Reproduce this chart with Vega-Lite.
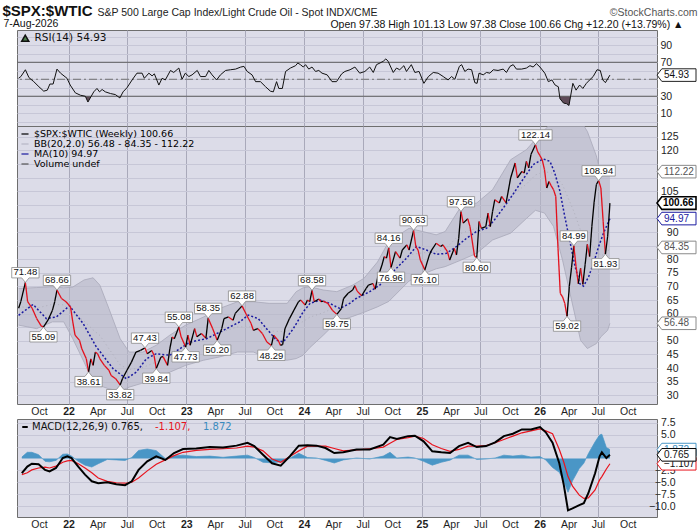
{
  "$schema": "https://vega.github.io/schema/vega-lite/v6.json",
  "background": "white",
  "padding": {"left": 2, "top": 3, "right": 0, "bottom": 0},
  "title": {
    "text": "$SPX:$WTIC",
    "anchor": "start",
    "dx": 0,
    "offset": -12,
    "font": "Liberation Sans",
    "fontSize": 15,
    "fontWeight": "bold",
    "color": "#111111"
  },
  "datasets": {
    "px": [
      {"d": "2021-07-30", "v": 62.0}, {"d": "2021-08-06", "v": 64.5}, {"d": "2021-08-20", "v": 71.48}, {"d": "2021-08-27", "v": 64.4},
      {"d": "2021-09-10", "v": 62.0}, {"d": "2021-09-24", "v": 58.2}, {"d": "2021-10-08", "v": 55.5}, {"d": "2021-10-15", "v": 55.09},
      {"d": "2021-10-29", "v": 57.6}, {"d": "2021-11-12", "v": 61.3}, {"d": "2021-11-19", "v": 64.4}, {"d": "2021-11-26", "v": 68.66},
      {"d": "2021-12-10", "v": 65.6}, {"d": "2021-12-24", "v": 64.4}, {"d": "2022-01-07", "v": 62.5}, {"d": "2022-01-14", "v": 57.0},
      {"d": "2022-01-21", "v": 52.1}, {"d": "2022-02-04", "v": 50.2}, {"d": "2022-02-11", "v": 47.1}, {"d": "2022-02-25", "v": 43.4},
      {"d": "2022-03-04", "v": 38.61}, {"d": "2022-03-11", "v": 43.4}, {"d": "2022-03-18", "v": 41.0}, {"d": "2022-03-25", "v": 45.9},
      {"d": "2022-04-01", "v": 45.3}, {"d": "2022-04-08", "v": 43.4}, {"d": "2022-04-22", "v": 41.0}, {"d": "2022-05-06", "v": 39.2},
      {"d": "2022-05-13", "v": 37.3}, {"d": "2022-05-27", "v": 36.1}, {"d": "2022-06-10", "v": 33.82}, {"d": "2022-06-17", "v": 36.1},
      {"d": "2022-07-01", "v": 39.2}, {"d": "2022-07-15", "v": 42.2}, {"d": "2022-07-29", "v": 45.9}, {"d": "2022-08-12", "v": 46.5},
      {"d": "2022-08-26", "v": 47.43}, {"d": "2022-09-02", "v": 45.3}, {"d": "2022-09-16", "v": 46.5}, {"d": "2022-09-23", "v": 44.7},
      {"d": "2022-09-30", "v": 39.84}, {"d": "2022-10-14", "v": 44.0}, {"d": "2022-10-21", "v": 44.2}, {"d": "2022-11-04", "v": 41.0},
      {"d": "2022-11-11", "v": 47.1}, {"d": "2022-11-18", "v": 51.4}, {"d": "2022-11-25", "v": 50.8}, {"d": "2022-12-09", "v": 55.08},
      {"d": "2022-12-16", "v": 51.5}, {"d": "2022-12-30", "v": 47.73}, {"d": "2023-01-06", "v": 52.1}, {"d": "2023-01-13", "v": 48.4},
      {"d": "2023-01-27", "v": 54.5}, {"d": "2023-02-03", "v": 51.5}, {"d": "2023-02-17", "v": 52.7}, {"d": "2023-03-03", "v": 51.0},
      {"d": "2023-03-10", "v": 58.35}, {"d": "2023-03-24", "v": 54.5}, {"d": "2023-04-07", "v": 50.2}, {"d": "2023-04-21", "v": 54.5},
      {"d": "2023-04-28", "v": 58.2}, {"d": "2023-05-12", "v": 58.8}, {"d": "2023-05-26", "v": 57.6}, {"d": "2023-06-02", "v": 60.1},
      {"d": "2023-06-23", "v": 62.88}, {"d": "2023-07-07", "v": 59.5}, {"d": "2023-07-21", "v": 56.4}, {"d": "2023-07-28", "v": 53.9},
      {"d": "2023-08-11", "v": 54.5}, {"d": "2023-08-25", "v": 52.7}, {"d": "2023-09-08", "v": 49.6}, {"d": "2023-09-22", "v": 48.29},
      {"d": "2023-09-29", "v": 52.1}, {"d": "2023-10-13", "v": 50.2}, {"d": "2023-10-20", "v": 48.4}, {"d": "2023-10-27", "v": 48.6},
      {"d": "2023-11-03", "v": 54.5}, {"d": "2023-11-17", "v": 58.2}, {"d": "2023-12-01", "v": 61.3}, {"d": "2023-12-15", "v": 64.4},
      {"d": "2023-12-22", "v": 65.0}, {"d": "2024-01-05", "v": 63.2}, {"d": "2024-01-12", "v": 65.0}, {"d": "2024-01-19", "v": 64.4},
      {"d": "2024-01-26", "v": 68.58}, {"d": "2024-02-02", "v": 64.4}, {"d": "2024-02-16", "v": 65.4}, {"d": "2024-02-23", "v": 64.4},
      {"d": "2024-03-01", "v": 64.6}, {"d": "2024-03-15", "v": 63.8}, {"d": "2024-03-29", "v": 61.3}, {"d": "2024-04-12", "v": 59.75},
      {"d": "2024-04-26", "v": 61.9}, {"d": "2024-05-03", "v": 65.6}, {"d": "2024-05-17", "v": 67.5}, {"d": "2024-05-31", "v": 68.7},
      {"d": "2024-06-07", "v": 70.3}, {"d": "2024-06-14", "v": 68.3}, {"d": "2024-06-28", "v": 66.6}, {"d": "2024-07-12", "v": 69.3},
      {"d": "2024-07-19", "v": 70.5}, {"d": "2024-08-02", "v": 71.1}, {"d": "2024-08-09", "v": 69.0}, {"d": "2024-08-16", "v": 73.0},
      {"d": "2024-08-23", "v": 75.4}, {"d": "2024-08-30", "v": 77.9}, {"d": "2024-09-06", "v": 81.0}, {"d": "2024-09-13", "v": 80.4},
      {"d": "2024-09-20", "v": 84.16}, {"d": "2024-09-27", "v": 76.96}, {"d": "2024-10-11", "v": 82.8}, {"d": "2024-10-25", "v": 80.4},
      {"d": "2024-11-01", "v": 83.4}, {"d": "2024-11-15", "v": 85.3}, {"d": "2024-11-22", "v": 83.4}, {"d": "2024-12-06", "v": 90.63},
      {"d": "2024-12-13", "v": 84.7}, {"d": "2024-12-20", "v": 83.4}, {"d": "2024-12-27", "v": 79.7}, {"d": "2025-01-10", "v": 76.1},
      {"d": "2025-01-24", "v": 81.6}, {"d": "2025-01-31", "v": 83.4}, {"d": "2025-02-14", "v": 85.9}, {"d": "2025-02-28", "v": 84.7},
      {"d": "2025-03-07", "v": 85.3}, {"d": "2025-03-21", "v": 82.8}, {"d": "2025-03-28", "v": 79.7}, {"d": "2025-04-11", "v": 84.0},
      {"d": "2025-04-18", "v": 81.6}, {"d": "2025-04-25", "v": 87.7}, {"d": "2025-05-02", "v": 97.56}, {"d": "2025-05-09", "v": 93.3},
      {"d": "2025-05-23", "v": 94.9}, {"d": "2025-05-30", "v": 92.0}, {"d": "2025-06-13", "v": 81.2}, {"d": "2025-06-20", "v": 80.6},
      {"d": "2025-06-27", "v": 93.9}, {"d": "2025-07-04", "v": 91.4}, {"d": "2025-07-18", "v": 92.0}, {"d": "2025-07-25", "v": 97.0},
      {"d": "2025-08-01", "v": 92.0}, {"d": "2025-08-08", "v": 97.6}, {"d": "2025-08-15", "v": 101.9}, {"d": "2025-08-29", "v": 100.7},
      {"d": "2025-09-05", "v": 103.1}, {"d": "2025-09-19", "v": 100.7}, {"d": "2025-10-03", "v": 109.9}, {"d": "2025-10-17", "v": 115.4},
      {"d": "2025-10-24", "v": 109.9}, {"d": "2025-11-07", "v": 112.3}, {"d": "2025-11-14", "v": 111.7}, {"d": "2025-11-21", "v": 116.0},
      {"d": "2025-11-28", "v": 113.6}, {"d": "2025-12-05", "v": 118.5}, {"d": "2025-12-19", "v": 122.14}, {"d": "2025-12-26", "v": 119.5},
      {"d": "2026-01-02", "v": 118.1}, {"d": "2026-01-09", "v": 116.6}, {"d": "2026-01-16", "v": 113.0}, {"d": "2026-01-23", "v": 106.2},
      {"d": "2026-01-30", "v": 108.6}, {"d": "2026-02-06", "v": 107.0}, {"d": "2026-02-13", "v": 105.6}, {"d": "2026-02-20", "v": 103.1},
      {"d": "2026-02-27", "v": 84.0}, {"d": "2026-03-06", "v": 67.5}, {"d": "2026-03-13", "v": 66.2}, {"d": "2026-03-20", "v": 63.8},
      {"d": "2026-03-27", "v": 59.02}, {"d": "2026-04-03", "v": 70.0}, {"d": "2026-04-10", "v": 77.0}, {"d": "2026-04-17", "v": 84.99},
      {"d": "2026-04-24", "v": 77.3}, {"d": "2026-05-01", "v": 71.0}, {"d": "2026-05-08", "v": 76.7}, {"d": "2026-05-15", "v": 70.8},
      {"d": "2026-05-22", "v": 78.0}, {"d": "2026-05-29", "v": 85.5}, {"d": "2026-06-05", "v": 81.0}, {"d": "2026-06-12", "v": 92.1},
      {"d": "2026-06-19", "v": 101.0}, {"d": "2026-06-26", "v": 107.5}, {"d": "2026-07-03", "v": 108.94}, {"d": "2026-07-10", "v": 106.2},
      {"d": "2026-07-17", "v": 94.0}, {"d": "2026-07-24", "v": 81.93}, {"d": "2026-07-31", "v": 88.46}, {"d": "2026-08-07", "v": 100.66}
    ],
    "bb": [
      {"d": "2021-07-30", "hi": 69.3, "lo": 55.8, "mid": 62.55}, {"d": "2021-09-24", "hi": 69.6, "lo": 54.5, "mid": 62.05},
      {"d": "2021-11-12", "hi": 69.9, "lo": 57.0, "mid": 63.45}, {"d": "2021-12-17", "hi": 69.5, "lo": 57.0, "mid": 63.25},
      {"d": "2022-01-14", "hi": 69.8, "lo": 50.8, "mid": 60.3}, {"d": "2022-02-18", "hi": 72.4, "lo": 42.2, "mid": 57.3},
      {"d": "2022-03-18", "hi": 73.2, "lo": 34.9, "mid": 54.05}, {"d": "2022-04-08", "hi": 70.5, "lo": 33.5, "mid": 52.0},
      {"d": "2022-05-06", "hi": 61.9, "lo": 32.4, "mid": 47.15}, {"d": "2022-06-10", "hi": 50.8, "lo": 31.5, "mid": 41.15},
      {"d": "2022-07-08", "hi": 45.9, "lo": 33.0, "mid": 39.45}, {"d": "2022-08-19", "hi": 45.9, "lo": 34.5, "mid": 40.2},
      {"d": "2022-09-30", "hi": 48.4, "lo": 36.1, "mid": 42.25}, {"d": "2022-11-11", "hi": 52.1, "lo": 38.5, "mid": 45.3},
      {"d": "2022-12-30", "hi": 55.8, "lo": 41.0, "mid": 48.4}, {"d": "2023-02-24", "hi": 58.8, "lo": 42.9, "mid": 50.85},
      {"d": "2023-04-14", "hi": 61.9, "lo": 44.1, "mid": 53.0}, {"d": "2023-06-09", "hi": 64.4, "lo": 45.9, "mid": 55.15},
      {"d": "2023-07-28", "hi": 64.4, "lo": 45.9, "mid": 55.15}, {"d": "2023-09-15", "hi": 63.8, "lo": 43.5, "mid": 53.65},
      {"d": "2023-11-10", "hi": 63.8, "lo": 42.9, "mid": 53.35}, {"d": "2023-12-08", "hi": 68.1, "lo": 43.5, "mid": 55.8},
      {"d": "2023-12-29", "hi": 69.5, "lo": 44.7, "mid": 57.1}, {"d": "2024-01-19", "hi": 69.9, "lo": 47.5, "mid": 58.7},
      {"d": "2024-03-01", "hi": 68.7, "lo": 52.1, "mid": 60.4}, {"d": "2024-04-12", "hi": 68.1, "lo": 57.0, "mid": 62.55},
      {"d": "2024-05-31", "hi": 70.5, "lo": 59.0, "mid": 64.75}, {"d": "2024-07-05", "hi": 73.0, "lo": 60.5, "mid": 66.75},
      {"d": "2024-08-16", "hi": 79.0, "lo": 62.5, "mid": 70.75}, {"d": "2024-09-20", "hi": 86.5, "lo": 64.5, "mid": 75.5},
      {"d": "2024-11-22", "hi": 91.4, "lo": 72.0, "mid": 81.7}, {"d": "2025-01-03", "hi": 90.2, "lo": 74.5, "mid": 82.35},
      {"d": "2025-02-14", "hi": 89.0, "lo": 76.5, "mid": 82.75}, {"d": "2025-03-14", "hi": 90.2, "lo": 77.3, "mid": 83.75},
      {"d": "2025-05-02", "hi": 99.4, "lo": 79.7, "mid": 89.55}, {"d": "2025-06-20", "hi": 100.7, "lo": 82.2, "mid": 91.45},
      {"d": "2025-08-08", "hi": 105.6, "lo": 87.1, "mid": 96.35}, {"d": "2025-10-03", "hi": 116.6, "lo": 89.6, "mid": 103.1},
      {"d": "2025-11-21", "hi": 120.3, "lo": 95.0, "mid": 107.65}, {"d": "2025-12-19", "hi": 124.0, "lo": 98.0, "mid": 111.0},
      {"d": "2026-01-16", "hi": 127.5, "lo": 97.0, "mid": 112.25}, {"d": "2026-02-13", "hi": 131.0, "lo": 92.1, "mid": 111.55},
      {"d": "2026-03-13", "hi": 135.0, "lo": 79.7, "mid": 107.35}, {"d": "2026-04-17", "hi": 134.0, "lo": 61.3, "mid": 97.65},
      {"d": "2026-05-08", "hi": 131.0, "lo": 50.2, "mid": 90.6}, {"d": "2026-05-29", "hi": 127.0, "lo": 47.2, "mid": 87.1},
      {"d": "2026-06-26", "hi": 118.0, "lo": 49.0, "mid": 83.5}, {"d": "2026-07-10", "hi": 111.0, "lo": 51.5, "mid": 81.25},
      {"d": "2026-07-31", "hi": 111.5, "lo": 53.9, "mid": 82.7}, {"d": "2026-08-07", "hi": 112.22, "lo": 56.48, "mid": 84.35}
    ],
    "ma": [
      {"d": "2021-07-30", "v": 59.4}, {"d": "2021-09-13", "v": 63.4}, {"d": "2021-10-24", "v": 58.2}, {"d": "2021-11-24", "v": 58.8},
      {"d": "2022-01-04", "v": 62.9}, {"d": "2022-02-15", "v": 56.4}, {"d": "2022-03-28", "v": 47.8}, {"d": "2022-05-19", "v": 39.8},
      {"d": "2022-06-29", "v": 36.1}, {"d": "2022-07-30", "v": 38.5}, {"d": "2022-08-30", "v": 43.4}, {"d": "2022-09-30", "v": 45.3},
      {"d": "2022-11-11", "v": 44.7}, {"d": "2022-12-12", "v": 47.1}, {"d": "2023-01-12", "v": 49.6}, {"d": "2023-03-05", "v": 50.8},
      {"d": "2023-04-26", "v": 53.9}, {"d": "2023-06-16", "v": 57.0}, {"d": "2023-07-12", "v": 59.5}, {"d": "2023-08-12", "v": 58.2},
      {"d": "2023-09-07", "v": 54.5}, {"d": "2023-10-08", "v": 50.2}, {"d": "2023-10-29", "v": 49.6}, {"d": "2023-11-29", "v": 54.5},
      {"d": "2023-12-30", "v": 60.7}, {"d": "2024-01-20", "v": 63.8}, {"d": "2024-02-20", "v": 65.0}, {"d": "2024-03-21", "v": 63.8},
      {"d": "2024-04-21", "v": 61.9}, {"d": "2024-05-22", "v": 63.8}, {"d": "2024-06-11", "v": 65.6}, {"d": "2024-07-23", "v": 68.1},
      {"d": "2024-08-23", "v": 70.5}, {"d": "2024-10-03", "v": 75.4}, {"d": "2024-11-14", "v": 80.4}, {"d": "2024-12-15", "v": 84.7},
      {"d": "2025-01-15", "v": 83.4}, {"d": "2025-02-15", "v": 81.8}, {"d": "2025-03-18", "v": 82.2}, {"d": "2025-04-18", "v": 84.7},
      {"d": "2025-05-19", "v": 87.7}, {"d": "2025-06-19", "v": 90.2}, {"d": "2025-07-20", "v": 91.4}, {"d": "2025-08-10", "v": 93.9},
      {"d": "2025-09-10", "v": 98.8}, {"d": "2025-10-11", "v": 104.0}, {"d": "2025-11-11", "v": 109.5}, {"d": "2025-12-12", "v": 114.8},
      {"d": "2026-01-12", "v": 116.9}, {"d": "2026-02-02", "v": 116.0}, {"d": "2026-02-17", "v": 111.7}, {"d": "2026-03-05", "v": 105.0},
      {"d": "2026-03-20", "v": 95.7}, {"d": "2026-04-05", "v": 86.5}, {"d": "2026-04-21", "v": 77.3}, {"d": "2026-05-05", "v": 71.1},
      {"d": "2026-05-17", "v": 70.1}, {"d": "2026-06-02", "v": 73.6}, {"d": "2026-06-17", "v": 78.5}, {"d": "2026-07-03", "v": 84.7},
      {"d": "2026-07-18", "v": 89.6}, {"d": "2026-08-07", "v": 94.97}
    ],
    "rsi": [
      {"d": "2021-07-30", "v": 51.2}, {"d": "2021-08-06", "v": 53.2}, {"d": "2021-08-20", "v": 61.2}, {"d": "2021-08-31", "v": 52},
      {"d": "2021-09-15", "v": 47.2}, {"d": "2021-10-01", "v": 41.2}, {"d": "2021-10-16", "v": 36}, {"d": "2021-10-27", "v": 37.2},
      {"d": "2021-11-04", "v": 44.4}, {"d": "2021-11-14", "v": 44.4}, {"d": "2021-11-26", "v": 62}, {"d": "2021-12-07", "v": 57.2},
      {"d": "2021-12-27", "v": 51.2}, {"d": "2022-01-06", "v": 43.2}, {"d": "2022-01-22", "v": 34}, {"d": "2022-02-07", "v": 31.2},
      {"d": "2022-02-22", "v": 30}, {"d": "2022-03-02", "v": 23.2}, {"d": "2022-03-11", "v": 29.2}, {"d": "2022-03-20", "v": 35.2},
      {"d": "2022-03-30", "v": 39.2}, {"d": "2022-04-07", "v": 35.2}, {"d": "2022-04-15", "v": 38}, {"d": "2022-04-25", "v": 35.2},
      {"d": "2022-05-11", "v": 33.2}, {"d": "2022-05-26", "v": 32}, {"d": "2022-06-09", "v": 28}, {"d": "2022-06-19", "v": 35.2},
      {"d": "2022-07-01", "v": 40}, {"d": "2022-07-17", "v": 49.2}, {"d": "2022-08-01", "v": 57.2}, {"d": "2022-08-17", "v": 57.2},
      {"d": "2022-08-24", "v": 51.2}, {"d": "2022-09-07", "v": 57.2}, {"d": "2022-09-17", "v": 54}, {"d": "2022-09-24", "v": 56.4},
      {"d": "2022-10-08", "v": 43.2}, {"d": "2022-10-18", "v": 51.2}, {"d": "2022-10-28", "v": 49.2}, {"d": "2022-11-13", "v": 60.4},
      {"d": "2022-11-23", "v": 58}, {"d": "2022-12-09", "v": 63.2}, {"d": "2022-12-19", "v": 50}, {"d": "2022-12-29", "v": 57.2},
      {"d": "2023-01-09", "v": 53.2}, {"d": "2023-01-19", "v": 55.2}, {"d": "2023-02-04", "v": 60.4}, {"d": "2023-02-14", "v": 53.2},
      {"d": "2023-03-02", "v": 53.2}, {"d": "2023-03-12", "v": 60.4}, {"d": "2023-03-22", "v": 55.2}, {"d": "2023-04-05", "v": 49.2},
      {"d": "2023-04-17", "v": 55.2}, {"d": "2023-05-03", "v": 60.4}, {"d": "2023-05-18", "v": 61.2}, {"d": "2023-06-03", "v": 62},
      {"d": "2023-06-19", "v": 64.4}, {"d": "2023-06-29", "v": 65.2}, {"d": "2023-07-09", "v": 59.2}, {"d": "2023-07-24", "v": 55.2},
      {"d": "2023-08-04", "v": 47.2}, {"d": "2023-08-19", "v": 47.2}, {"d": "2023-09-04", "v": 41.2}, {"d": "2023-09-19", "v": 36},
      {"d": "2023-09-28", "v": 35.2}, {"d": "2023-10-08", "v": 47.2}, {"d": "2023-10-15", "v": 39.2}, {"d": "2023-10-26", "v": 39.2},
      {"d": "2023-11-05", "v": 59.2}, {"d": "2023-11-20", "v": 63.2}, {"d": "2023-12-06", "v": 66}, {"d": "2023-12-13", "v": 69.2},
      {"d": "2023-12-21", "v": 67.2}, {"d": "2023-12-30", "v": 64.4}, {"d": "2024-01-06", "v": 67.2}, {"d": "2024-01-16", "v": 62},
      {"d": "2024-01-26", "v": 64.4}, {"d": "2024-02-06", "v": 59.2}, {"d": "2024-02-16", "v": 60.4}, {"d": "2024-02-26", "v": 57.2},
      {"d": "2024-03-13", "v": 55.2}, {"d": "2024-03-28", "v": 47.2}, {"d": "2024-04-11", "v": 47.2}, {"d": "2024-04-27", "v": 56.4},
      {"d": "2024-05-07", "v": 59.2}, {"d": "2024-05-23", "v": 61.2}, {"d": "2024-06-07", "v": 64.4}, {"d": "2024-06-22", "v": 57.2},
      {"d": "2024-07-08", "v": 59.2}, {"d": "2024-07-23", "v": 64.4}, {"d": "2024-08-03", "v": 58}, {"d": "2024-08-13", "v": 67.2},
      {"d": "2024-08-24", "v": 69.2}, {"d": "2024-09-03", "v": 71.2}, {"d": "2024-09-11", "v": 74}, {"d": "2024-09-18", "v": 71.2},
      {"d": "2024-10-04", "v": 58}, {"d": "2024-10-14", "v": 63.2}, {"d": "2024-10-24", "v": 61.2}, {"d": "2024-11-06", "v": 66},
      {"d": "2024-11-14", "v": 59.2}, {"d": "2024-11-29", "v": 67.2}, {"d": "2024-12-10", "v": 58}, {"d": "2024-12-23", "v": 59.2},
      {"d": "2025-01-07", "v": 45.2}, {"d": "2025-01-21", "v": 53.2}, {"d": "2025-02-05", "v": 58}, {"d": "2025-02-20", "v": 57.2},
      {"d": "2025-03-08", "v": 53.2}, {"d": "2025-03-23", "v": 49.2}, {"d": "2025-04-03", "v": 53.2}, {"d": "2025-04-13", "v": 50},
      {"d": "2025-04-27", "v": 65.2}, {"d": "2025-05-04", "v": 67.2}, {"d": "2025-05-14", "v": 59.2}, {"d": "2025-05-24", "v": 62},
      {"d": "2025-06-04", "v": 61.2}, {"d": "2025-06-14", "v": 46}, {"d": "2025-06-21", "v": 45.2}, {"d": "2025-06-27", "v": 57.2},
      {"d": "2025-07-10", "v": 55.2}, {"d": "2025-07-20", "v": 58}, {"d": "2025-07-31", "v": 57.2}, {"d": "2025-08-10", "v": 61.2},
      {"d": "2025-08-25", "v": 60.4}, {"d": "2025-09-10", "v": 62}, {"d": "2025-09-20", "v": 58}, {"d": "2025-10-01", "v": 65.2},
      {"d": "2025-10-11", "v": 67.2}, {"d": "2025-10-21", "v": 62}, {"d": "2025-11-06", "v": 62}, {"d": "2025-11-21", "v": 63.2},
      {"d": "2025-12-02", "v": 66}, {"d": "2025-12-12", "v": 64.4}, {"d": "2025-12-22", "v": 68.4}, {"d": "2026-01-02", "v": 64.4},
      {"d": "2026-01-17", "v": 57.2}, {"d": "2026-01-28", "v": 47.2}, {"d": "2026-02-08", "v": 49.2}, {"d": "2026-02-18", "v": 43.2},
      {"d": "2026-02-28", "v": 41.2}, {"d": "2026-03-05", "v": 27.2}, {"d": "2026-03-16", "v": 22}, {"d": "2026-03-26", "v": 21.2},
      {"d": "2026-04-02", "v": 19.2}, {"d": "2026-04-14", "v": 45.2}, {"d": "2026-04-24", "v": 37.2}, {"d": "2026-05-05", "v": 43.2},
      {"d": "2026-05-15", "v": 39.2}, {"d": "2026-05-26", "v": 45.2}, {"d": "2026-06-05", "v": 49.2}, {"d": "2026-06-16", "v": 53.2},
      {"d": "2026-06-28", "v": 61.2}, {"d": "2026-07-08", "v": 60.4}, {"d": "2026-07-16", "v": 49.2}, {"d": "2026-07-24", "v": 46},
      {"d": "2026-08-07", "v": 54.93}
    ],
    "rsilow": [
      {"d": "2022-02-22", "v": 30, "g": "a"}, {"d": "2022-03-02", "v": 23.2, "g": "a"}, {"d": "2022-03-11", "v": 29.2, "g": "a"}, {"d": "2022-03-12", "v": 30, "g": "a"},
      {"d": "2022-06-06", "v": 30, "g": "b"}, {"d": "2022-06-09", "v": 28, "g": "b"}, {"d": "2022-06-11", "v": 30, "g": "b"},
      {"d": "2026-03-04", "v": 30, "g": "c"}, {"d": "2026-03-05", "v": 27.2, "g": "c"}, {"d": "2026-03-16", "v": 22, "g": "c"},
      {"d": "2026-03-26", "v": 21.2, "g": "c"}, {"d": "2026-04-02", "v": 19.2, "g": "c"}, {"d": "2026-04-07", "v": 30, "g": "c"}
    ],
    "macd": [
      {"d": "2021-08-09", "m": -3.1, "s": -3.4, "h": 0.3}, {"d": "2021-08-26", "m": -1.7, "s": -3.0, "h": 1.3},
      {"d": "2021-09-09", "m": -1.1, "s": -2.4, "h": 1.3}, {"d": "2021-09-30", "m": -1.2, "s": -2.0, "h": 0.8},
      {"d": "2021-10-20", "m": -2.4, "s": -1.8, "h": -0.6}, {"d": "2021-11-03", "m": -2.7, "s": -2.0, "h": -0.7},
      {"d": "2021-11-23", "m": -2.0, "s": -1.6, "h": -0.4}, {"d": "2021-12-14", "m": 0.1, "s": -0.8, "h": 0.9},
      {"d": "2021-12-28", "m": 0.45, "s": -0.5, "h": 0.95}, {"d": "2022-01-10", "m": 0.1, "s": -0.4, "h": 0.5},
      {"d": "2022-01-31", "m": -1.7, "s": -1.1, "h": -0.6}, {"d": "2022-02-21", "m": -3.4, "s": -2.0, "h": -1.4},
      {"d": "2022-03-14", "m": -4.8, "s": -3.0, "h": -1.8}, {"d": "2022-04-03", "m": -5.2, "s": -4.1, "h": -1.1},
      {"d": "2022-05-01", "m": -5.0, "s": -4.8, "h": -0.2}, {"d": "2022-05-29", "m": -5.4, "s": -5.1, "h": -0.3},
      {"d": "2022-06-25", "m": -5.6, "s": -5.2, "h": -0.4}, {"d": "2022-07-16", "m": -4.8, "s": -5.0, "h": 0.2},
      {"d": "2022-08-06", "m": -2.4, "s": -4.1, "h": 1.7}, {"d": "2022-09-02", "m": -0.6, "s": -2.6, "h": 2.0},
      {"d": "2022-09-30", "m": 0.45, "s": -1.2, "h": 1.65}, {"d": "2022-10-28", "m": -0.3, "s": -0.3, "h": 0.0},
      {"d": "2022-11-24", "m": 1.15, "s": 0.6, "h": 0.55}, {"d": "2022-12-22", "m": 2.0, "s": 1.3, "h": 0.7},
      {"d": "2023-02-01", "m": 2.1, "s": 1.7, "h": 0.4}, {"d": "2023-03-15", "m": 2.4, "s": 1.9, "h": 0.5},
      {"d": "2023-04-25", "m": 2.3, "s": 2.05, "h": 0.25}, {"d": "2023-06-06", "m": 2.7, "s": 2.2, "h": 0.5},
      {"d": "2023-07-10", "m": 3.3, "s": 2.6, "h": 0.7}, {"d": "2023-07-31", "m": 2.6, "s": 2.4, "h": 0.2},
      {"d": "2023-08-27", "m": 0.8, "s": 1.6, "h": -0.8}, {"d": "2023-09-24", "m": -1.0, "s": -0.1, "h": -0.9},
      {"d": "2023-10-21", "m": -1.5, "s": -0.8, "h": -0.7}, {"d": "2023-11-18", "m": 0.45, "s": 0.4, "h": 0.05},
      {"d": "2023-12-16", "m": 2.7, "s": 1.6, "h": 1.1}, {"d": "2024-01-12", "m": 2.8, "s": 2.6, "h": 0.2},
      {"d": "2024-02-09", "m": 2.7, "s": 2.6, "h": 0.1}, {"d": "2024-03-08", "m": 2.2, "s": 2.6, "h": -0.4},
      {"d": "2024-04-04", "m": 1.15, "s": 2.1, "h": -0.95}, {"d": "2024-05-02", "m": 1.3, "s": 1.6, "h": -0.3},
      {"d": "2024-06-12", "m": 1.9, "s": 1.8, "h": 0.1}, {"d": "2024-07-23", "m": 1.9, "s": 2.0, "h": -0.1},
      {"d": "2024-09-03", "m": 2.9, "s": 2.4, "h": 0.5}, {"d": "2024-09-24", "m": 4.5, "s": 3.2, "h": 1.3},
      {"d": "2024-10-15", "m": 4.1, "s": 4.0, "h": 0.1}, {"d": "2024-11-19", "m": 4.7, "s": 4.4, "h": 0.3},
      {"d": "2024-12-10", "m": 4.8, "s": 4.7, "h": 0.1}, {"d": "2025-01-06", "m": 3.6, "s": 4.2, "h": -0.6},
      {"d": "2025-02-02", "m": 1.5, "s": 2.9, "h": -1.4}, {"d": "2025-03-02", "m": 1.3, "s": 2.1, "h": -0.8},
      {"d": "2025-03-29", "m": 1.15, "s": 1.5, "h": -0.35}, {"d": "2025-04-26", "m": 2.6, "s": 1.9, "h": 0.7},
      {"d": "2025-05-24", "m": 3.3, "s": 2.6, "h": 0.7}, {"d": "2025-06-20", "m": 2.4, "s": 2.6, "h": -0.2},
      {"d": "2025-07-19", "m": 2.6, "s": 2.7, "h": -0.1}, {"d": "2025-08-16", "m": 3.4, "s": 3.3, "h": 0.1},
      {"d": "2025-09-12", "m": 4.7, "s": 4.0, "h": 0.7}, {"d": "2025-10-10", "m": 5.2, "s": 4.7, "h": 0.5},
      {"d": "2025-11-07", "m": 6.1, "s": 5.4, "h": 0.7}, {"d": "2025-12-05", "m": 6.1, "s": 5.8, "h": 0.3},
      {"d": "2026-01-02", "m": 6.6, "s": 6.2, "h": 0.4}, {"d": "2026-01-20", "m": 5.5, "s": 5.8, "h": -0.3},
      {"d": "2026-02-10", "m": 3.3, "s": 5.2, "h": -1.9}, {"d": "2026-03-03", "m": -1.0, "s": 1.9, "h": -2.9},
      {"d": "2026-03-17", "m": -5.6, "s": -0.8, "h": -4.8}, {"d": "2026-03-30", "m": -10.9, "s": -3.8, "h": -7.1},
      {"d": "2026-04-13", "m": -10.5, "s": -5.8, "h": -4.7}, {"d": "2026-05-04", "m": -9.8, "s": -7.7, "h": -2.1},
      {"d": "2026-05-18", "m": -9.4, "s": -8.4, "h": -1.0}, {"d": "2026-06-01", "m": -7.3, "s": -8.3, "h": 1.0},
      {"d": "2026-06-22", "m": -3.1, "s": -6.6, "h": 3.5}, {"d": "2026-07-06", "m": 0.45, "s": -4.5, "h": 4.95},
      {"d": "2026-07-13", "m": 1.3, "s": -3.8, "h": 5.1}, {"d": "2026-07-27", "m": 0.1, "s": -2.2, "h": 2.3},
      {"d": "2026-08-07", "m": 0.765, "s": -1.107, "h": 1.872}
    ],
    "lbl": [
      {"d": "2021-08-20", "v": 71.48, "k": "p"}, {"d": "2021-11-26", "v": 68.66, "k": "p"}, {"d": "2022-08-26", "v": 47.43, "k": "p"},
      {"d": "2022-12-09", "v": 55.08, "k": "p"}, {"d": "2023-03-10", "v": 58.35, "k": "p"}, {"d": "2023-06-23", "v": 62.88, "k": "p"},
      {"d": "2024-01-26", "v": 68.58, "k": "p"}, {"d": "2024-09-20", "v": 84.16, "k": "p"}, {"d": "2024-12-06", "v": 90.63, "k": "p"},
      {"d": "2025-05-02", "v": 97.56, "k": "p"}, {"d": "2025-12-19", "v": 122.14, "k": "p"}, {"d": "2026-04-17", "v": 84.99, "k": "p"},
      {"d": "2026-07-03", "v": 108.94, "k": "p"},
      {"d": "2021-10-15", "v": 55.09, "k": "t"}, {"d": "2022-03-04", "v": 38.61, "k": "t"}, {"d": "2022-06-10", "v": 33.82, "k": "t"},
      {"d": "2022-09-30", "v": 39.84, "k": "t"}, {"d": "2022-12-30", "v": 47.73, "k": "t"}, {"d": "2023-04-07", "v": 50.2, "k": "t"},
      {"d": "2023-09-22", "v": 48.29, "k": "t"}, {"d": "2024-04-12", "v": 59.75, "k": "t"}, {"d": "2024-09-27", "v": 76.96, "k": "t"},
      {"d": "2025-01-10", "v": 76.1, "k": "t"}, {"d": "2025-06-20", "v": 80.6, "k": "t"}, {"d": "2026-03-27", "v": 59.02, "k": "t"},
      {"d": "2026-07-24", "v": 81.93, "k": "t"}
    ],
    "tags": [
      {"d": "2026-08-07", "v": 112.22, "k": "hi"}, {"d": "2026-08-07", "v": 100.66, "k": "px"}, {"d": "2026-08-07", "v": 94.97, "k": "ma"},
      {"d": "2026-08-07", "v": 84.35, "k": "mid"}, {"d": "2026-08-07", "v": 56.48, "k": "lo"}
    ],
    "mtags": [
      {"d": "2026-08-07", "m": 1.872, "k": "h"}, {"d": "2026-08-07", "m": 0.765, "k": "m"}, {"d": "2026-08-07", "m": -1.107, "k": "s"}
    ]
  },
  "spacing": 0,
  "resolve": {"scale": {"color": "independent"}, "legend": {"color": "independent"}},
  "vconcat": [
    {
      "spacing": 0,
      "bounds": "flush",
      "resolve": {"scale": {"color": "independent"}, "legend": {"color": "independent"}},
      "vconcat": [
        {
          "width": 640,
          "height": 96,
          "encoding": {
            "y": {
              "field": "v",
              "type": "quantitative",
              "scale": {"domain": [-5, 108], "nice": false, "zero": false},
              "axis": {
                "orient": "right",
                "values": [0, 10, 20, 30, 40, 50, 60, 70, 80, 90, 100],
                "labelExpr": "indexof([10, 30, 70, 90], datum.value) >= 0 ? datum.label : ''",
                "grid": true,
                "labelPadding": 3,
                "title": "©StockCharts.com",
                "titleAngle": 0,
                "titleX": 40,
                "titleY": -18,
                "titleAlign": "right",
                "titleBaseline": "middle",
                "titleFont": "Liberation Sans",
                "titleFontSize": 10.5,
                "titleFontWeight": "normal",
                "titleColor": "#555555"
              }
            }
          },
          "layer": [
            {
              "data": {"name": "rsilow"},
              "mark": {"type": "area", "color": "#5f4b58"},
              "encoding": {
                "x": {
                  "field": "d",
                  "type": "temporal",
                  "scale": {"type": "utc", "domain": [{"year": 2021, "month": 7, "date": 25, "utc": true}, {"year": 2026, "month": 12, "date": 31, "utc": true}]},
                  "axis": {
                    "orient": "bottom",
                    "tickCount": {"interval": "month", "step": 3},
                    "labels": false,
                    "grid": true,
                    "gridColor": "#a9a9ba",
                    "gridOpacity": {"condition": {"test": "utcmonth(datum.value) % 6 === 0", "value": 1}, "value": 0},
                    "title": "S&P 500 Large Cap Index/Light Crude Oil - Spot  INDX/CME",
                    "titleX": 80,
                    "titleY": -114,
                    "titleAlign": "left",
                    "titleAnchor": "start",
                    "titleBaseline": "middle",
                    "titleFont": "Liberation Sans",
                    "titleFontSize": 10.5,
                    "titleFontWeight": "normal",
                    "titleColor": "#222222"
                  }
                },
                "y2": {"datum": 30},
                "detail": {"field": "g", "type": "nominal"}
              }
            },
            {
              "data": {"values": [{"v": 70}, {"v": 30}]},
              "mark": {"type": "rule", "color": "#5c5c5c", "strokeWidth": 1},
              "encoding": {}
            },
            {
              "data": {"values": [{"v": 50}]},
              "mark": {"type": "rule", "color": "#707070", "strokeWidth": 1, "strokeDash": [8, 3, 2, 3]},
              "encoding": {}
            },
            {
              "data": {"name": "rsi"},
              "mark": {"type": "line", "strokeWidth": 1},
              "encoding": {
                "x": {"field": "d", "type": "temporal", "axis": null},
                "color": {
                  "datum": "RSI(14) 54.93",
                  "scale": {"domain": ["RSI(14) 54.93"], "range": ["#111111"]},
                  "legend": {
                    "orient": "top-left",
                    "offset": 3,
                    "padding": 0,
                    "title": null,
                    "symbolType": "triangle-up",
                    "symbolSize": 50,
                    "labelFont": "DejaVu Sans",
                    "labelFontSize": 10.5,
                    "labelColor": "#111111",
                    "encode": {"symbols": {"update": {"fill": {"value": "#4d7f4d"}, "stroke": {"value": "#222222"}}}}
                  }
                }
              }
            },
            {
              "data": {"values": [{"d": "2026-08-07", "v": 54.93}]},
              "mark": {"type": "point", "shape": "M0,0L0.32,-0.42H2.6V0.42H0.32Z", "size": 900, "filled": true, "fill": "white", "stroke": "#222222", "strokeWidth": 1, "opacity": 1},
              "encoding": {"x": {"datum": {"year": 2026, "month": 12, "date": 31, "utc": true}, "axis": null}}
            },
            {
              "data": {"values": [{"d": "2026-08-07", "v": 54.93}]},
              "mark": {"type": "text", "align": "left", "baseline": "middle", "dx": 7, "font": "Liberation Sans", "fontSize": 10, "color": "#111111"},
              "encoding": {
                "x": {"datum": {"year": 2026, "month": 12, "date": 31, "utc": true}, "axis": null},
                "text": {"field": "v", "type": "quantitative", "format": ".2f"}
              }
            }
          ],
          "resolve": {"axis": {"x": "independent"}}
        },
        {
          "width": 640,
          "height": 278,
          "encoding": {
            "x": {
              "field": "d",
              "type": "temporal",
              "scale": {"type": "utc", "domain": [{"year": 2021, "month": 7, "date": 25, "utc": true}, {"year": 2026, "month": 12, "date": 31, "utc": true}]},
              "axis": {
                "orient": "bottom",
                "tickCount": {"interval": "month", "step": 3},
                "labelExpr": "utcmonth(datum.value) === 0 ? utcFormat(datum.value, '%y') : utcFormat(datum.value, '%b')",
                "labelFontWeight": {"condition": {"test": "utcmonth(datum.value) === 0", "value": "bold"}, "value": "normal"},
                "labelFontSize": 10.5,
                "labelPadding": 2,
                "labelFlush": false,
                "labelOverlap": false,
                "grid": true,
                "gridColor": "#a9a9ba",
                "gridOpacity": {"condition": {"test": "utcmonth(datum.value) % 6 === 0", "value": 1}, "value": 0},
                "title": "7-Aug-2026",
                "titleX": -14,
                "titleY": -381,
                "titleAlign": "left",
                "titleAnchor": "start",
                "titleBaseline": "middle",
                "titleFont": "Liberation Sans",
                "titleFontSize": 10.5,
                "titleFontWeight": "normal",
                "titleColor": "#111111"
              }
            },
            "y": {
              "field": "v",
              "type": "quantitative",
              "scale": {"domain": [26.8, 129], "nice": false, "zero": false},
              "axis": {
                "orient": "right",
                "values": [30, 35, 40, 45, 50, 55, 60, 65, 70, 75, 80, 85, 90, 95, 100, 105, 110, 115, 120, 125],
                "labelExpr": "indexof([55, 85, 95, 100, 110, 115], datum.value) >= 0 ? '' : datum.label",
                "grid": true,
                "labelAlign": "right",
                "labelPadding": 21,
                "title": "Open 97.38 High 101.13 Low 97.38 Close 100.66 Chg +12.20 (+13.79%) ▲",
                "titleAngle": 0,
                "titleX": 26,
                "titleY": -102,
                "titleAlign": "right",
                "titleBaseline": "middle",
                "titleFont": "Liberation Sans",
                "titleFontSize": 10.5,
                "titleFontWeight": "normal",
                "titleColor": "#111111"
              }
            }
          },
          "layer": [
            {
              "data": {"name": "bb"},
              "mark": {"type": "area", "opacity": 0.6, "clip": true},
              "encoding": {
                "y": {"field": "lo", "type": "quantitative"},
                "y2": {"field": "hi"},
                "color": {
                  "datum": "BB(20,2.0) 56.48 - 84.35 - 112.22",
                  "scale": {
                    "domain": ["$SPX:$WTIC (Weekly) 100.66", "BB(20,2.0) 56.48 - 84.35 - 112.22", "MA(10) 94.97", "Volume undef"],
                    "range": ["#000000", "#b6b6c6", "#1a1aa0", "#555555"]
                  },
                  "legend": {
                    "orient": "top-left",
                    "offset": 3,
                    "padding": 0,
                    "title": null,
                    "symbolType": "stroke",
                    "symbolStrokeWidth": 2,
                    "symbolSize": 50,
                    "rowPadding": 0,
                    "labelFont": "DejaVu Sans",
                    "labelFontSize": 9.5,
                    "encode": {
                      "labels": {
                        "update": {
                          "fill": {"signal": "datum.value === 'MA(10) 94.97' ? '#1a1aa0' : (datum.value === 'BB(20,2.0) 56.48 - 84.35 - 112.22' ? '#8a8a9a' : '#111111')"}
                        }
                      }
                    }
                  }
                }
              }
            },
            {
              "data": {"name": "bb"},
              "mark": {"type": "line", "color": "#a8a8b9", "strokeWidth": 0.8, "clip": true},
              "encoding": {"y": {"field": "hi", "type": "quantitative"}}
            },
            {
              "data": {"name": "bb"},
              "mark": {"type": "line", "color": "#a8a8b9", "strokeWidth": 0.8, "clip": true},
              "encoding": {"y": {"field": "lo", "type": "quantitative"}}
            },
            {
              "data": {"name": "bb"},
              "mark": {"type": "line", "color": "#b0b0bc", "strokeWidth": 1, "strokeDash": [1, 3]},
              "encoding": {"y": {"field": "mid", "type": "quantitative"}}
            },
            {
              "data": {"name": "ma"},
              "mark": {"type": "line", "strokeWidth": 1.5, "strokeDash": [2, 2]},
              "encoding": {"color": {"datum": "MA(10) 94.97"}}
            },
            {
              "data": {"name": "px"},
              "transform": [
                {"window": [{"op": "lag", "field": "v", "as": "pv"}, {"op": "lag", "field": "d", "as": "pd"}], "sort": [{"field": "d"}]},
                {"filter": "datum.pv != null"}
              ],
              "mark": {"type": "rule", "strokeWidth": 1.3},
              "encoding": {
                "x": {"field": "pd", "type": "temporal"},
                "x2": {"field": "d"},
                "y": {"field": "pv", "type": "quantitative"},
                "y2": {"field": "v"},
                "color": {"condition": {"test": "datum.v < datum.pv", "value": "#e3101c"}, "datum": "$SPX:$WTIC (Weekly) 100.66"}
              }
            },
            {
              "data": {"name": "lbl"},
              "transform": [{"filter": "datum.k === 'p'"}],
              "mark": {"type": "point", "filled": true, "fill": "white", "stroke": "#8a8a8a", "strokeWidth": 0.8, "opacity": 1, "size": 676},
              "encoding": {
                "shape": {
                  "condition": {"test": "datum.v >= 100", "value": "M-1.28,-1.15H1.28V-0.35H0.28L0,0L-0.28,-0.35H-1.28Z"},
                  "value": "M-1.05,-1.15H1.05V-0.35H0.28L0,0L-0.28,-0.35H-1.05Z"
                }
              }
            },
            {
              "data": {"name": "lbl"},
              "transform": [{"filter": "datum.k === 'p'"}],
              "mark": {"type": "text", "dy": -10, "baseline": "middle", "font": "Liberation Sans", "fontSize": 9.5, "color": "#111111"},
              "encoding": {"text": {"field": "v", "type": "quantitative", "format": ".2f"}}
            },
            {
              "data": {"name": "lbl"},
              "transform": [{"filter": "datum.k === 't'"}],
              "mark": {"type": "point", "filled": true, "fill": "white", "stroke": "#8a8a8a", "strokeWidth": 0.8, "opacity": 1, "size": 676, "shape": "M-1.05,1.15H1.05V0.35H0.28L0,0L-0.28,0.35H-1.05Z"},
              "encoding": {}
            },
            {
              "data": {"name": "lbl"},
              "transform": [{"filter": "datum.k === 't'"}],
              "mark": {"type": "text", "dy": 10, "baseline": "middle", "font": "Liberation Sans", "fontSize": 9.5, "color": "#111111"},
              "encoding": {"text": {"field": "v", "type": "quantitative", "format": ".2f"}}
            },
            {
              "data": {"name": "tags"},
              "mark": {"type": "point", "shape": "M0,0L0.32,-0.42H2.6V0.42H0.32Z", "size": 900, "filled": true, "fill": "white", "opacity": 1},
              "encoding": {
                "x": {"datum": {"year": 2026, "month": 12, "date": 31, "utc": true}},
                "stroke": {"condition": [{"test": "datum.k === 'px'", "value": "#000000"}, {"test": "datum.k === 'ma'", "value": "#1a1aa0"}], "value": "#8a8a8a"},
                "strokeWidth": {"condition": {"test": "datum.k === 'px'", "value": 1.6}, "value": 1}
              }
            },
            {
              "data": {"name": "tags"},
              "transform": [{"filter": "datum.k !== 'px'"}],
              "mark": {"type": "text", "align": "left", "baseline": "middle", "dx": 7, "font": "Liberation Sans", "fontSize": 10},
              "encoding": {
                "x": {"datum": {"year": 2026, "month": 12, "date": 31, "utc": true}},
                "text": {"field": "v", "type": "quantitative", "format": ".2f"},
                "color": {"condition": {"test": "datum.k === 'ma'", "value": "#1a1aa0"}, "value": "#555555"}
              }
            },
            {
              "data": {"name": "tags"},
              "transform": [{"filter": "datum.k === 'px'"}],
              "mark": {"type": "text", "align": "left", "baseline": "middle", "dx": 6, "font": "Liberation Sans", "fontSize": 10, "fontWeight": "bold", "color": "#000000"},
              "encoding": {
                "x": {"datum": {"year": 2026, "month": 12, "date": 31, "utc": true}},
                "text": {"field": "v", "type": "quantitative", "format": ".2f"}
              }
            }
          ]
        }
      ]
    },
    {
      "width": 640,
      "height": 98,
      "encoding": {
        "x": {
          "field": "d",
          "type": "temporal",
          "scale": {"type": "utc", "domain": [{"year": 2021, "month": 7, "date": 25, "utc": true}, {"year": 2026, "month": 12, "date": 31, "utc": true}]},
          "axis": {
            "orient": "bottom",
            "tickCount": {"interval": "month", "step": 3},
            "labelExpr": "utcmonth(datum.value) === 0 ? utcFormat(datum.value, '%y') : utcFormat(datum.value, '%b')",
            "labelFontWeight": {"condition": {"test": "utcmonth(datum.value) === 0", "value": "bold"}, "value": "normal"},
            "labelFontSize": 10.5,
            "labelPadding": 2,
            "labelFlush": false,
            "labelOverlap": false,
            "grid": true,
            "gridColor": "#a9a9ba",
            "gridOpacity": {"condition": {"test": "utcmonth(datum.value) % 6 === 0", "value": 1}, "value": 0},
            "title": null
          }
        },
        "y": {
          "field": "m",
          "type": "quantitative",
          "scale": {"domain": [-12.3, 8.3], "nice": false, "zero": false},
          "axis": {
            "orient": "right",
            "values": [-10, -7.5, -5, -2.5, 2.5, 5, 7.5],
            "labelExpr": "datum.value === 2.5 ? '' : format(datum.value, '.1f')",
            "grid": true,
            "labelAlign": "right",
            "labelPadding": 18,
            "title": null
          }
        }
      },
      "layer": [
        {
          "data": {"name": "macd"},
          "mark": {"type": "area", "opacity": 1, "line": {"color": "#2a6d96", "strokeWidth": 0.7}},
          "encoding": {
            "y": {"field": "h", "type": "quantitative"},
            "y2": {"datum": 0},
            "color": {
              "datum": "1.872",
              "scale": {"domain": ["MACD(12,26,9) 0.765,", "-1.107,", "1.872"], "range": ["#000000", "#e8141e", "#4a96c6"]},
              "legend": {
                "orient": "top-left",
                "direction": "horizontal",
                "offset": 3,
                "padding": 0,
                "title": null,
                "symbolType": "stroke",
                "symbolStrokeWidth": 2,
                "symbolSize": 30,
                "columnPadding": 0,
                "labelOffset": 2,
                "labelFont": "DejaVu Sans",
                "labelFontSize": 10,
                "encode": {
                  "labels": {
                    "update": {
                      "fill": {"signal": "datum.value === '-1.107,' ? '#e8141e' : (datum.value === '1.872' ? '#3a8cc0' : '#111111')"}
                    }
                  },
                  "symbols": {
                    "update": {
                      "opacity": {"signal": "datum.value === 'MACD(12,26,9) 0.765,' ? 1 : 0"}
                    }
                  }
                }
              }
            }
          }
        },
        {
          "data": {"name": "macd"},
          "mark": {"type": "line", "strokeWidth": 1.2},
          "encoding": {"y": {"field": "s", "type": "quantitative"}, "color": {"datum": "-1.107,"}}
        },
        {
          "data": {"name": "macd"},
          "mark": {"type": "line", "strokeWidth": 2},
          "encoding": {"color": {"datum": "MACD(12,26,9) 0.765,"}}
        },
        {
          "data": {"name": "mtags"},
          "transform": [{"filter": "datum.k === 'h'"}],
          "mark": {"type": "point", "shape": "M0,0L0.32,-0.42H2.6V0.42H0.32Z", "size": 900, "filled": true, "fill": "white", "opacity": 1, "strokeWidth": 1, "stroke": "#4a96c6"},
          "encoding": {"x": {"datum": {"year": 2026, "month": 12, "date": 31, "utc": true}}}
        },
        {
          "data": {"name": "mtags"},
          "transform": [{"filter": "datum.k === 'h'"}],
          "mark": {"type": "text", "align": "left", "baseline": "middle", "dx": 7, "font": "Liberation Sans", "fontSize": 10, "color": "#3a8cc0"},
          "encoding": {
            "x": {"datum": {"year": 2026, "month": 12, "date": 31, "utc": true}},
            "text": {"field": "m", "type": "quantitative", "format": ".3f"}
          }
        },
        {
          "data": {"name": "mtags"},
          "transform": [{"filter": "datum.k === 's'"}],
          "mark": {"type": "point", "shape": "M0,0L0.32,-0.42H2.6V0.42H0.32Z", "size": 900, "filled": true, "fill": "white", "opacity": 1, "strokeWidth": 1, "stroke": "#e8141e"},
          "encoding": {"x": {"datum": {"year": 2026, "month": 12, "date": 31, "utc": true}}}
        },
        {
          "data": {"name": "mtags"},
          "transform": [{"filter": "datum.k === 's'"}],
          "mark": {"type": "text", "align": "left", "baseline": "middle", "dx": 7, "font": "Liberation Sans", "fontSize": 10, "color": "#111111"},
          "encoding": {
            "x": {"datum": {"year": 2026, "month": 12, "date": 31, "utc": true}},
            "text": {"field": "m", "type": "quantitative", "format": ".3f"}
          }
        },
        {
          "data": {"name": "mtags"},
          "transform": [{"filter": "datum.k === 'm'"}],
          "mark": {"type": "point", "shape": "M0,0L0.32,-0.42H2.6V0.42H0.32Z", "size": 900, "filled": true, "fill": "white", "opacity": 1, "strokeWidth": 1, "stroke": "#000000"},
          "encoding": {"x": {"datum": {"year": 2026, "month": 12, "date": 31, "utc": true}}}
        },
        {
          "data": {"name": "mtags"},
          "transform": [{"filter": "datum.k === 'm'"}],
          "mark": {"type": "text", "align": "left", "baseline": "middle", "dx": 7, "font": "Liberation Sans", "fontSize": 10, "color": "#111111"},
          "encoding": {
            "x": {"datum": {"year": 2026, "month": 12, "date": 31, "utc": true}},
            "text": {"field": "m", "type": "quantitative", "format": ".3f"}
          }
        }
      ]
    }
  ],
  "config": {
    "view": {"fill": "#dcdce8", "stroke": "#6e6e6e", "strokeWidth": 1},
    "axis": {
      "domain": false,
      "ticks": false,
      "labelFont": "Liberation Sans",
      "labelFontSize": 10.5,
      "labelColor": "#1e1e1e",
      "gridColor": "#c7c7d7",
      "gridWidth": 1
    },
    "legend": {"labelLimit": 400}
  }
}
